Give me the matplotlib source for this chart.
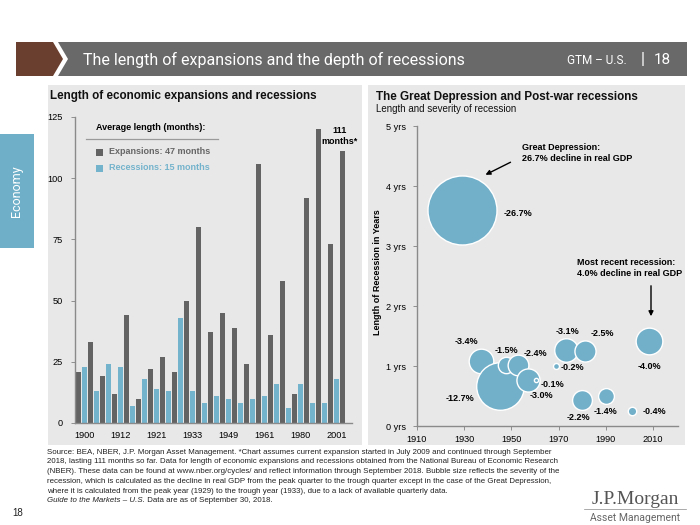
import matplotlib
matplotlib.use('Agg')
import matplotlib.pyplot as plt
from matplotlib.patches import Polygon, Rectangle
import numpy as np

plt.rcParams['font.family'] = ['Liberation Sans', 'DejaVu Sans']

# left chart: months, expansions and recessions alternate starting 1900
expansions = [21, 33, 19, 12, 44, 10, 22, 27, 21, 50, 80, 37, 45, 39, 24, 106, 36, 58, 12, 92, 120, 73, 111]
recessions = [23, 13, 24, 23, 7, 18, 14, 13, 43, 13, 8, 11, 10, 8, 10, 11, 16, 6, 16, 8, 8, 18]
year_labels = ['1900', '1912', '1921', '1933', '1949', '1961', '1980', '2001']
avg_expansion = 47
avg_recession = 15

# right chart: recession start year, length (years), decline in real GDP (%)
rec_year = [1929, 1937, 1945, 1947.5, 1952.8, 1956.8, 1960.2, 1969, 1973, 1980, 1981, 1990, 2001, 2008.2]
rec_length = [3.6, 1.09, 0.66, 1.02, 1.02, 0.77, 0.77, 1.0, 1.27, 0.43, 1.25, 0.5, 0.25, 1.42]
gdp_decline = [26.7, 3.4, 12.7, 1.5, 2.4, 3.0, 0.1, 0.2, 3.1, 2.2, 2.5, 1.4, 0.4, 4.0]

DARK = '#636363'
BLUE = '#74b3cc'
BUBBLE = '#72b0ca'
PANEL = '#e8e8e8'

fig = plt.figure(figsize=(7, 5.25), dpi=100)

# background / decoration layer in pixel coords
bg = fig.add_axes([0, 0, 1, 1], zorder=-1)
bg.set_xlim(0, 700)
bg.set_ylim(525, 0)
bg.axis('off')

# header band
bg.add_patch(Polygon([(16, 42), (53, 42), (63, 59), (53, 76), (16, 76)], closed=True, color='#6b3f2f', lw=0))
bg.add_patch(Polygon([(58, 42), (687, 42), (687, 76), (58, 76), (68, 59)], closed=True, color='#696969', lw=0))
bg.text(83, 59.5, 'The length of expansions and the depth of recessions', color='white',
        fontsize=11.5, family=['Roboto', 'DejaVu Sans'], va='center', ha='left')
bg.text(627, 60, 'GTM – U.S.', color='white', fontsize=8.5, family=['Roboto', 'DejaVu Sans'], va='center', ha='right')
bg.text(643, 59, '|', color='white', fontsize=12, family=['Roboto', 'DejaVu Sans'], va='center', ha='center')
bg.text(671, 59.5, '18', color='white', fontsize=11, family=['Roboto', 'DejaVu Sans'], va='center', ha='right')

# side tab
bg.add_patch(Rectangle((0, 134), 34, 114, color='#6fb0c8', lw=0))
bg.text(17, 191, 'Economy', color='white', fontsize=9, family=['Roboto', 'DejaVu Sans'],
        rotation=90, va='center', ha='center')

# panels
bg.add_patch(Rectangle((48, 85), 314, 360, color=PANEL, lw=0))
bg.add_patch(Rectangle((368, 85), 317, 360, color=PANEL, lw=0))

bg.text(50, 96, 'Length of economic expansions and recessions', fontsize=8.4, fontweight='bold',
        va='center', ha='left', color='#111111')
bg.text(376, 97, 'The Great Depression and Post-war recessions', fontsize=8.4, fontweight='bold',
        va='center', ha='left', color='#111111')
bg.text(376, 109, 'Length and severity of recession', fontsize=7, va='center', ha='left', color='#111111')

# ---------------- left chart ----------------
ax1 = fig.add_axes([75 / 700, 1 - 423 / 525, (352 - 75) / 700, (423 - 117) / 525])
ax1.set_facecolor('none')
heights = []
colors = []
for i, e in enumerate(expansions):
    heights.append(e)
    colors.append(DARK)
    if i < len(recessions):
        heights.append(recessions[i])
        colors.append(BLUE)
idx = np.arange(len(heights))
ax1.bar(idx, heights, width=0.92, color=colors, lw=0)
ax1.set_xlim(-0.6, 45.6)
ax1.set_ylim(0, 125)
ax1.set_yticks([0, 25, 50, 75, 100, 125])
ax1.set_xticks(idx[1::6][:len(year_labels)])
ax1.set_xticklabels(year_labels)
ax1.tick_params(axis='x', length=0, labelsize=6.6, pad=6)
ax1.tick_params(axis='y', length=3, width=0.6, color='#808080', labelsize=6.6, pad=6)
for s in ['top', 'right']:
    ax1.spines[s].set_visible(False)
for s in ['left', 'bottom']:
    ax1.spines[s].set_color('#8a8a8a')
    ax1.spines[s].set_linewidth(1)
ax1.annotate('111\nmonths*', xy=(idx[-1], heights[-1]), xytext=(-2, 4), textcoords='offset points',
             ha='center', va='bottom', fontsize=6.5, fontweight='bold', linespacing=1.3)

# legend
bg.text(96, 128, 'Average length (months):', fontsize=6.5, fontweight='bold', va='center', ha='left')
bg.plot([86, 218], [139, 139], color='#9a9a9a', lw=0.9)
bg.add_patch(Rectangle((96, 148.5), 7, 7, color=DARK, lw=0))
bg.text(109, 152, f'Expansions: {avg_expansion} months', fontsize=6.5, fontweight='bold',
        color='#666666', va='center', ha='left')
bg.add_patch(Rectangle((96, 164.5), 7, 7, color=BLUE, lw=0))
bg.text(109, 168, f'Recessions: {avg_recession} months', fontsize=6.5, fontweight='bold',
        color=BLUE, va='center', ha='left')

# ---------------- right chart ----------------
ax2 = fig.add_axes([417 / 700, 1 - 426 / 525, (678 - 417) / 700, 300 / 525])
ax2.set_facecolor('none')
sizes = [92.5 * d for d in gdp_decline]
for x, y, s in zip(rec_year, rec_length, sizes):
    ax2.scatter([x], [y], s=s, color=BUBBLE, edgecolors='white', linewidths=1, clip_on=False, zorder=3)
ax2.set_xlim(1910, 2020.5)
ax2.set_ylim(0, 5)
ax2.set_xticks([1910, 1930, 1950, 1970, 1990, 2010])
ax2.set_yticks([0, 1, 2, 3, 4, 5])
ax2.set_yticklabels([f'{v} yrs' for v in range(6)])
ax2.tick_params(axis='both', length=3, width=0.6, color='#808080', labelsize=6.6)
ax2.tick_params(axis='y', pad=5)
for s in ['top', 'right']:
    ax2.spines[s].set_visible(False)
for s in ['left', 'bottom']:
    ax2.spines[s].set_color('#8a8a8a')
    ax2.spines[s].set_linewidth(1)

# bubble labels, offsets in pixels (dx right, dy down)
label_offsets = [(56, 4), (-14, -19), (-40, 12), (1, -14), (17, -11), (14, 16), (17, 5),
                 (16, 2), (2, -18), (-4, 17), (18, -17), (0, 16), (22, 0), (0, 26)]
for x, y, d, (dx, dy) in zip(rec_year, rec_length, gdp_decline, label_offsets):
    ax2.annotate(f'-{d:.1f}%', xy=(x, y), xytext=(dx * 0.72, -dy * 0.72), textcoords='offset points',
                 ha='center', va='center', fontsize=6.5, fontweight='bold', zorder=5)

bg.text(378, 272, 'Length of Recession in Years', rotation=90, fontsize=6.5, fontweight='bold',
        va='center', ha='center')

bg.text(522, 143, 'Great Depression:\n26.7% decline in real GDP', fontsize=6.5, fontweight='bold',
        va='top', ha='left', linespacing=1.25)
bg.annotate('', xy=(483, 176), xytext=(513, 161),
            arrowprops=dict(arrowstyle='-|>', color='black', lw=1, mutation_scale=7))
bg.text(577, 258, 'Most recent recession:\n4.0% decline in real GDP', fontsize=6.5, fontweight='bold',
        va='top', ha='left', linespacing=1.25)
bg.annotate('', xy=(651, 319), xytext=(651, 283),
            arrowprops=dict(arrowstyle='-|>', color='black', lw=1, mutation_scale=7))

# footer
footer = [
    'Source: BEA, NBER, J.P. Morgan Asset Management. *Chart assumes current expansion started in July 2009 and continued through September',
    '2018, lasting 111 months so far. Data for length of economic expansions and recessions obtained from the National Bureau of Economic Research',
    '(NBER). These data can be found at www.nber.org/cycles/ and reflect information through September 2018. Bubble size reflects the severity of the',
    'recession, which is calculated as the decline in real GDP from the peak quarter to the trough quarter except in the case of the Great Depression,',
    'where it is calculated from the peak year (1929) to the trough year (1933), due to a lack of available quarterly data.',
]
for i, line in enumerate(footer):
    bg.text(47, 452 + i * 9.8, line, fontsize=5.65, va='center', ha='left', color='#222222')
t_it = bg.text(47, 452 + 5 * 9.8, 'Guide to the Markets – U.S.', fontsize=5.65, style='italic',
               va='center', ha='left', color='#222222')
bg.annotate(' Data are as of September 30, 2018.', xy=(1, 0.5), xycoords=t_it, va='center', ha='left',
            fontsize=5.65, color='#222222')

bg.text(18, 513, '18', fontsize=7, va='center', ha='center', color='#222222')
bg.text(635, 499, 'J.P.Morgan', fontsize=14, family=['Liberation Serif', 'DejaVu Serif'],
        va='center', ha='center', color='#555555')
bg.plot([584, 686], [509, 509], color='#888888', lw=0.5)
bg.text(635, 518, 'Asset Management', fontsize=7.5, family=['Roboto', 'DejaVu Sans'],
        va='center', ha='center', color='#666666')

fig.savefig('out.png', dpi=100)
